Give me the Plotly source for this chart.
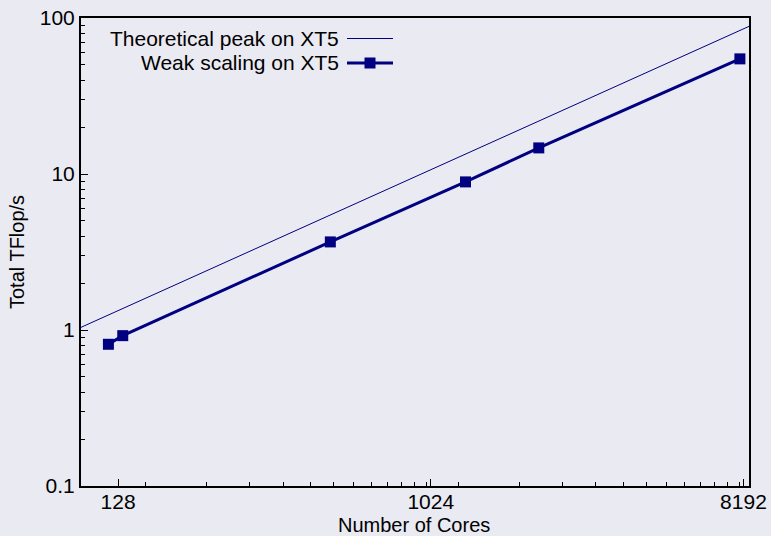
import plotly.graph_objects as go

# Data
peak_cores = [100, 8500]
peak_tflops = [1.04, 88.4]
weak_cores = [120, 132, 525, 1290, 2100, 8000]
weak_tflops = [0.81, 0.92, 3.67, 8.9, 14.7, 54.7]

x_tickvals = [128, 1024, 8192]
x_ticktext = ["128", "1024", "8192"]
y_tickvals = [0.1, 1, 10, 100]
y_ticktext = ["0.1", "1", "10", "100"]
x_title = "Number of Cores"
y_title = "Total TFlop/s"

x_minor = [76.8 * k for k in range(2, 14)] + [614.4 * k for k in range(2, 14)]
y_minor = [k * 10 ** n for n in (-1, 0, 1) for k in range(2, 10)]

NAVY = "#000080"
BG = "#EAEAF2"
FONT = "Liberation Sans, Arial, Helvetica, sans-serif"
FS = 21

fig = go.Figure()
fig.add_trace(go.Scatter(x=peak_cores, y=peak_tflops, mode="lines",
                         line=dict(color=NAVY, width=1), showlegend=False))
fig.add_trace(go.Scatter(x=weak_cores, y=weak_tflops, mode="lines+markers",
                         line=dict(color=NAVY, width=3),
                         marker=dict(symbol="square", size=11, color=NAVY),
                         showlegend=False))

axis_common = dict(showgrid=False, zeroline=False, showline=True, linecolor="black",
                   linewidth=2, mirror=True, ticks="inside", ticklen=7, tickwidth=1,
                   tickcolor="black", automargin=False,
                   tickfont=dict(size=FS, color="black", family=FONT))

fig.update_xaxes(type="log", range=[2, 3.9294], tickmode="array",
                 tickvals=x_tickvals, ticktext=x_ticktext, ticklabelstandoff=-4,
                 minor=dict(tickmode="array", tickvals=x_minor, ticks="inside",
                            ticklen=4, tickcolor="black", tickwidth=1),
                 **axis_common)
fig.update_yaxes(type="log", range=[-1, 2], tickmode="array",
                 tickvals=y_tickvals, ticktext=y_ticktext,
                 minor=dict(tickmode="array", tickvals=y_minor, ticks="inside",
                            ticklen=4, tickcolor="black", tickwidth=1),
                 **axis_common)

L, R, T, B = 81, 22, 18, 50
W, H = 771 - L - R, 536 - T - B
def px(x):
    return (x - L) / W
def py(y):
    return (536 - B - y) / H

# Axis titles
fig.add_annotation(xref="paper", yref="paper", x=px(414), y=py(525), text=x_title,
                   showarrow=False, xanchor="center", yanchor="middle",
                   font=dict(size=FS - 1, family=FONT, color="black"))
fig.add_annotation(xref="paper", yref="paper", x=px(17), y=py(252), text=y_title,
                   showarrow=False, xanchor="center", yanchor="middle", textangle=-90,
                   font=dict(size=FS - 1, family=FONT, color="black"))

# Legend (gnuplot-style: text right-aligned, sample on the right)
legend_items = [("Theoretical peak on XT5", 38.5, 1, False),
                ("Weak scaling on XT5", 63, 3, True)]
for text, ypix, lw, mark in legend_items:
    fig.add_annotation(xref="paper", yref="paper", x=px(341), y=py(ypix), text=text,
                       showarrow=False, xanchor="right", yanchor="middle",
                       font=dict(size=FS, family=FONT, color="black"))
    fig.add_shape(type="line", xref="paper", yref="paper",
                  x0=px(347), x1=px(393), y0=py(ypix), y1=py(ypix),
                  line=dict(color=NAVY, width=lw))
    if mark:
        fig.add_shape(type="rect", xref="paper", yref="paper",
                      x0=px(364.5), x1=px(375.5), y0=py(ypix - 5.5), y1=py(ypix + 5.5),
                      line=dict(width=0), fillcolor=NAVY)

fig.update_layout(width=771, height=536, margin=dict(l=L, r=R, t=T, b=B),
                  paper_bgcolor=BG, plot_bgcolor=BG,
                  font=dict(family=FONT, size=FS, color="black"))

fig.write_html("out.html")
